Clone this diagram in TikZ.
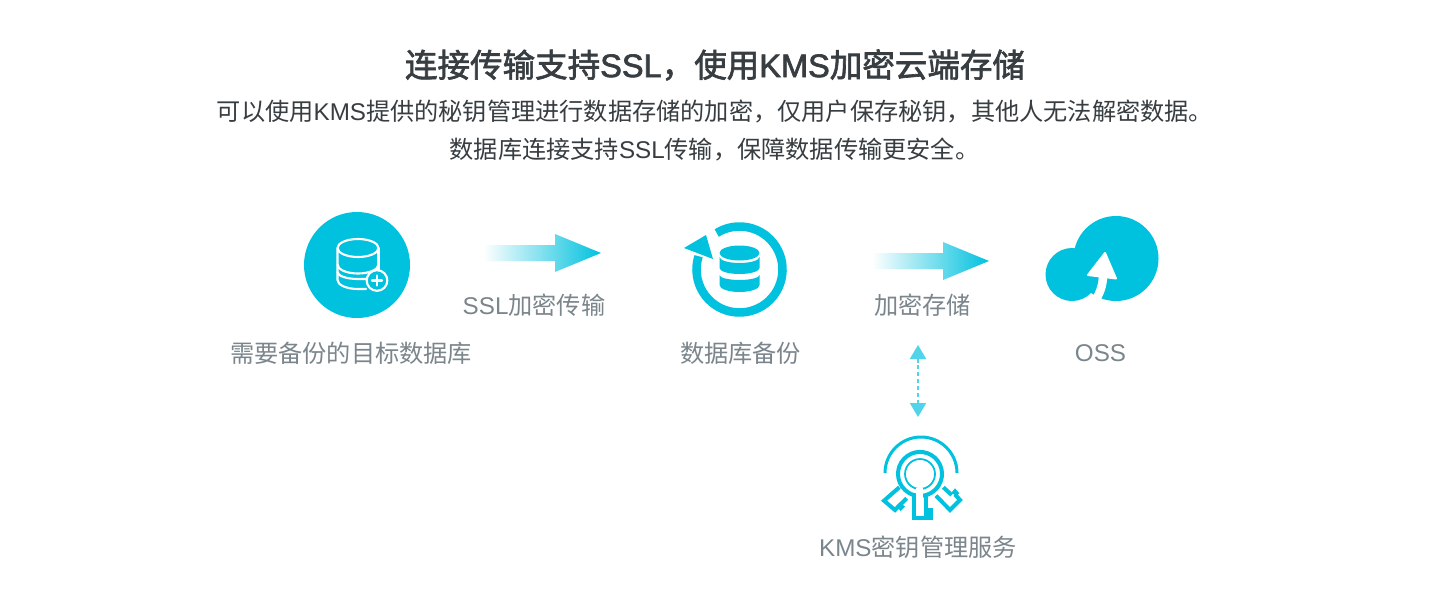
\documentclass[tikz,border=0pt]{standalone}
\usepackage{fontspec}
\setmainfont{Liberation Sans}
\newfontfamily\cjk{Noto Sans CJK SC}
\newfontfamily\cjkheavy[FakeBold=2]{Noto Sans CJK SC}
\newfontfamily\latheavy[FakeBold=2]{Liberation Sans}
\usetikzlibrary{arrows.meta}
\definecolor{brand}{HTML}{00C1DE}
\definecolor{lightbrand}{HTML}{4FD4E9}
\definecolor{titletext}{HTML}{373D41}
\definecolor{labeltext}{HTML}{7A858C}
\newcommand{\zh}[1]{{\cjk #1}}
\newcommand{\zhb}[1]{{\cjkheavy #1}}
\newcommand{\fwc}{\symbol{"FF0C}}
\tikzset{
  x=0.75pt,y=-0.75pt,
  titlelabel/.style={inner sep=0,text=titletext,font=\latheavy\fontsize{24.4}{28}\selectfont},
  bodylabel/.style={inner sep=0,text=titletext,font=\fontsize{18.15}{22}\selectfont},
  graylabel/.style={inner sep=0,text=labeltext,font=\fontsize{18.15}{22}\selectfont},
  gradarrow/.style={left color=white,right color=brand,draw=none},
  dashlink/.style={draw=lightbrand,line width=1.5pt,dash pattern=on 3pt off 2.2pt,
    {Triangle[length=10.5pt,width=12pt]}-{Triangle[length=10.5pt,width=12pt]}},
  whiteline/.style={draw=white,line width=1.6pt,line cap=round,line join=round},
  keyline/.style={draw=brand,line width=3pt,line join=miter},
}
\begin{document}
\begin{tikzpicture}
\useasboundingbox (0,0) rectangle (1430,600);
\fill[white] (0,0) rectangle (1430,600);

% heading
\node[titlelabel] (title) at (715,65) {\zhb{连接传输支持}SSL\zhb{\fwc 使用}KMS\zhb{加密云端存储}};
\node[bodylabel] (sub1) at (715,112) {\zh{可以使用}KMS\zh{提供的秘钥管理进行数据存储的加密\fwc 仅用户保存秘钥\fwc 其他人无法解密数据。}};
\node[bodylabel] (sub2) at (714.5,149) {\zh{数据库连接支持}SSL\zh{传输\fwc 保障数据传输更安全。}};

% source database
\node[circle,fill=brand,minimum size=79.5pt,inner sep=0] (dbicon) at (357,265) {};
\draw[whiteline] (358,248) ellipse [x radius=20.5,y radius=9];
\draw[whiteline] (337.5,248) -- (337.5,280) arc[start angle=180,end angle=90,x radius=20.5,y radius=9] -- (366,289);
\draw[whiteline] (337.5,264.5) arc[start angle=180,end angle=0,x radius=20.5,y radius=9];
\draw[whiteline] (337.5,272) arc[start angle=180,end angle=90,x radius=20.5,y radius=7] -- (366,279);
\draw[whiteline] (378.5,248) -- (378.5,272);
\node[circle,fill=brand,draw=white,line width=1.6pt,minimum size=15.5pt,inner sep=0] (plus) at (377,280.5) {};
\draw[whiteline] (372,280.5) -- (382,280.5) (377,275.5) -- (377,285.5);
\node[graylabel] (dblabel) at (351,353) {\zh{需要备份的目标数据库}};

% arrow 1
\coordinate (a1s) at (483,253);
\coordinate (a1e) at (601,253);
\shade[gradarrow] (a1s) ++(0,-8) -- ++(72,0) -- ++(0,-11) -- (a1e) -- ++(-46,19) -- ++(0,-11) -- ++(-72,0) -- cycle;
\node[graylabel] (a1label) at (534,305) {SSL\zh{加密传输}};

% backup icon
\coordinate (ringc) at (739.5,269.5);
\draw[brand,line width=6.4pt] (ringc) ++(238:43) arc[start angle=238,end angle=558,radius=43];
\fill[brand] (684,248) -- (706,235) -- (713,259) -- cycle;
\fill[brand] (739.5,253) ellipse [x radius=20,y radius=7.5];
\fill[brand] (719.5,257) arc[start angle=180,end angle=0,x radius=20,y radius=6] -- (759.5,268)
  arc[start angle=0,end angle=180,x radius=20,y radius=6] -- cycle;
\fill[brand] (719.5,275) arc[start angle=180,end angle=0,x radius=20,y radius=5] -- (759.5,285)
  arc[start angle=0,end angle=180,x radius=20,y radius=7] -- cycle;
\node[graylabel] (backuplabel) at (740.5,353) {\zh{数据库备份}};

% arrow 2
\coordinate (a2s) at (872,261);
\coordinate (a2e) at (989,261);
\shade[gradarrow] (a2s) ++(0,-8) -- ++(71,0) -- ++(0,-11) -- (a2e) -- ++(-46,19) -- ++(0,-11) -- ++(-71,0) -- cycle;
\node[graylabel] (a2label) at (922.5,305) {\zh{加密存储}};

% OSS
\fill[brand] (1116,258.5) circle (42.5);
\fill[brand] (1072,274.5) circle (26.5);
\fill[white,draw=white,line width=1.5pt,line join=round] (1105,253) -- (1088,275) -- (1116,278.5) -- cycle;
\draw[white,line width=6.4pt] (1103,275) .. controls (1103,285) and (1100,294) .. (1093,304);
\node[graylabel] (osslabel) at (1100.5,353) {OSS};

% link to KMS
\coordinate (linktop) at (918,345);
\coordinate (linkbot) at (918,417);
\draw[dashlink] (linktop) -- (linkbot);

% KMS icon
\draw[brand,line width=2.25pt] (885,473) arc[start angle=180,end angle=360,radius=36];
\draw[brand,line width=1.3pt] (920,474) circle (15);
\draw[keyline] (905,490) arc[start angle=133,end angle=-313,radius=22];
\draw[keyline] (913.5,495) -- (913.5,518) -- (925.5,518) -- (925.5,495);
\fill[white] (915.6,488) rectangle (923.4,499);
\fill[brand] (925.5,508) rectangle (933,519.5);
\draw[keyline] (899.3,487.3) -- (884,500.7) -- (895,510) -- (906.7,498.3);
\fill[brand] (896,506) -- (900,502) -- (905,506.7) -- (900.7,511) -- cycle;
\draw[keyline] (943.3,487.3) -- (951.7,495);
\draw[keyline] (936,495.7) -- (950,510) -- (960,500) -- (955,494.5);
\fill[brand] (951.7,492.3) -- (955,488.3) -- (959.3,493.3) -- (956,496.7) -- cycle;
\node[graylabel] (kmslabel) at (918,547) {KMS\zh{密钥管理服务}};
\end{tikzpicture}
\end{document}
